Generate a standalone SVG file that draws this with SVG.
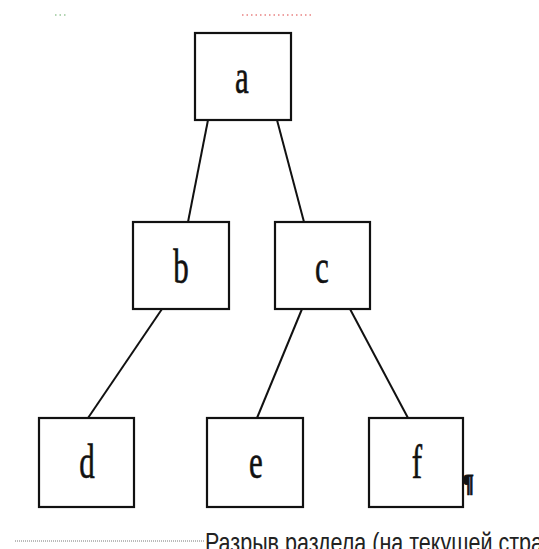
<svg xmlns="http://www.w3.org/2000/svg" width="539" height="549" viewBox="0 0 539 549">
<style>
.box{fill:#fff;stroke:#111;stroke-width:2.2}
.edge{stroke:#111;stroke-width:2;fill:none}
.lbl{font-family:"Liberation Serif","Times New Roman",serif;font-size:31px;fill:#111;text-anchor:middle;stroke:#111;stroke-width:0.4}
</style>
<rect width="539" height="549" fill="#fff"/>
<line x1="55" y1="15" x2="66" y2="15" stroke="#6a6" stroke-width="1.2" stroke-dasharray="1.5,3"/>
<line x1="242" y1="15" x2="312" y2="15" stroke="#d44" stroke-width="1.2" stroke-dasharray="1.5,3"/>
<g id="connectors">
<line class="edge" x1="208" y1="120" x2="188" y2="222"/>
<line class="edge" x1="277" y1="120" x2="304" y2="222"/>
<line class="edge" x1="162" y1="309" x2="88" y2="418"/>
<line class="edge" x1="302" y1="309" x2="257" y2="418"/>
<line class="edge" x1="350" y1="309" x2="408" y2="418"/>
</g>
<g id="node-a"><rect class="box" x="195" y="33" width="96" height="87"/><text class="lbl" transform="translate(242,93) scale(1,1.55)">a</text></g>
<g id="node-b"><rect class="box" x="133" y="222" width="96" height="87"/><text class="lbl" transform="translate(181,283) scale(1,1.55)">b</text></g>
<g id="node-c"><rect class="box" x="275" y="222" width="95" height="87"/><text class="lbl" transform="translate(322,283) scale(1,1.55)">c</text></g>
<g id="node-d"><rect class="box" x="39" y="418" width="95" height="89"/><text class="lbl" transform="translate(87,478) scale(1,1.55)">d</text></g>
<g id="node-e"><rect class="box" x="207" y="418" width="96" height="89"/><text class="lbl" transform="translate(256,478) scale(1,1.55)">e</text></g>
<g id="node-f"><rect class="box" x="369" y="418" width="94" height="89"/><text class="lbl" transform="translate(417,478) scale(1,1.55)">f</text></g>
<text transform="translate(462,492) scale(1,1.15)" font-family="Liberation Serif, serif" font-size="22" font-weight="bold" fill="#111" stroke="#111" stroke-width="0.8">¶</text>
<line x1="15" y1="541" x2="205" y2="541" stroke="#777" stroke-width="1" stroke-dasharray="1,1"/>
<text transform="translate(205,552) scale(1,1.3)" font-family="Liberation Sans, Arial, sans-serif" font-size="21.5" fill="#222">Разрыв раздела (на текущей стра</text>
</svg>
